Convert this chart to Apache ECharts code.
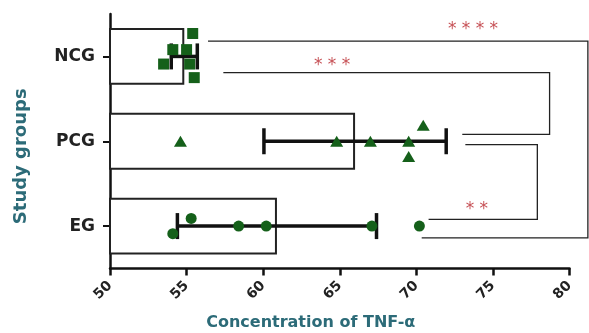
<!DOCTYPE html>
<meta charset="utf-8">
<style>
  body { margin: 0; background: #fff; }
  #container { width: 589px; height: 333px; }
</style>
<body>
<div id="container"></div>
<script src="https://cdn.jsdelivr.net/npm/echarts@6/dist/echarts.min.js"></script>
<script>

// groups from bottom to top, as the category axis draws them
var groups = ['EG', 'PCG', 'NCG'];
var means = [60.9, 66.0, 54.85];
var sds = [6.5, 5.95, 0.85];
var xTicks = [50, 55, 60, 65, 70, 75, 80];

// individual values: [concentration, vertical jitter inside the group band]
var egValues = [[55.3, 0.09], [54.1, -0.09], [58.4, 0], [60.2, 0], [67.1, 0], [70.2, 0]];
var pcgValues = [[54.6, 0], [64.8, 0], [67.0, 0], [69.5, 0], [70.45, 0.19], [69.5, -0.18]];
var ncgValues = [[55.4, 0.27], [54.1, 0.08], [55.0, 0.08], [53.5, -0.09], [55.2, -0.09], [55.5, -0.25]];

// significance brackets, in data units: x1,y1, x2,y2, x3,y3, x4,y4
var brackets = [
  [56.4, 2.68, 81.2, 2.68, 81.2, 0.36, 70.35, 0.36],
  [57.4, 2.31, 78.7, 2.31, 78.7, 1.58, 73.0, 1.58],
  [73.2, 1.46, 77.9, 1.46, 77.9, 0.58, 70.8, 0.58]
];
var starLabels = [
  { name: '* * * *', value: [73.7, 2.82] },
  { name: '* * *', value: [64.5, 2.39] },
  { name: '* *', value: [73.95, 0.69] }
];

var green = '#15601a';
var teal = '#2c6b78';

function place(values, idx) {
  return values.map(function (v) { return [v[0], idx + 0.5 + v[1]]; });
}

var dom = document.getElementById('container');
var myChart = echarts.init(dom, null, { renderer: 'canvas' });

var option = {
  animation: false,
  grid: { left: 110, right: 19.5, top: 14, bottom: 64.5, outerBoundsMode: 'none', containLabel: false },
  xAxis: {
    type: 'value',
    min: 50,
    max: 80,
    interval: 5,
    name: 'Concentration of TNF-\u03b1',
    nameLocation: 'middle',
    nameGap: 46,
    nameTextStyle: {
      color: teal, fontFamily: 'DejaVu Sans', fontWeight: 'bold', fontSize: 16,
      padding: [0, 58, 0, 0]
    },
    splitLine: { show: false },
    axisLine: { show: true, lineStyle: { color: '#111', width: 2.5 } },
    axisTick: { show: true, length: 7, lineStyle: { color: '#111', width: 2.5 } },
    axisLabel: {
      rotate: 45, margin: 15, color: '#222',
      fontFamily: 'DejaVu Sans', fontWeight: 'bold', fontSize: 14,
      formatter: function (v) { return xTicks.indexOf(v) >= 0 ? String(v) : ''; }
    }
  },
  yAxis: [{
    type: 'category',
    data: groups,
    name: 'Study groups',
    nameLocation: 'middle',
    nameGap: 80,
    nameTextStyle: {
      color: teal, fontFamily: 'DejaVu Sans', fontWeight: 'bold', fontSize: 18,
      padding: [0, 30, 0, 0]
    },
    axisLine: { show: true, lineStyle: { color: '#111', width: 2.5 } },
    axisTick: { show: true, alignWithLabel: true, length: 7, lineStyle: { color: '#111', width: 2 } },
    axisLabel: {
      margin: 15, color: '#222',
      fontFamily: 'DejaVu Sans', fontWeight: 'bold', fontSize: 17
    }
  }, {
    type: 'value',
    min: 0,
    max: 3,
    show: false
  }],
  series: [
    {
      type: 'bar',
      data: means,
      barWidth: '67%',
      itemStyle: { color: '#fff', borderColor: '#222', borderWidth: 2 },
      z: 2
    },
    {
      type: 'custom',
      xAxisIndex: 0,
      yAxisIndex: 1,
      data: means.map(function (m, i) { return [m, sds[i], i + 0.5]; }),
      encode: { x: 0, y: 2 },
      renderItem: function (params, api) {
        var m = api.value(0), s = api.value(1), y = api.value(2);
        var lo = api.coord([m - s, y]);
        var hi = api.coord([m + s, y]);
        var h = 13;
        var st = { stroke: '#111', lineWidth: 3.5 };
        return {
          type: 'group',
          children: [
            { type: 'line', shape: { x1: lo[0], y1: lo[1], x2: hi[0], y2: hi[1] }, style: st },
            { type: 'line', shape: { x1: lo[0], y1: lo[1] - h, x2: lo[0], y2: lo[1] + h }, style: st },
            { type: 'line', shape: { x1: hi[0], y1: hi[1] - h, x2: hi[0], y2: hi[1] + h }, style: st }
          ]
        };
      },
      z: 3
    },
    {
      type: 'scatter', xAxisIndex: 0, yAxisIndex: 1,
      data: place(egValues, 0), symbol: 'circle', symbolSize: 11,
      itemStyle: { color: green, opacity: 1 }, z: 4
    },
    {
      type: 'scatter', xAxisIndex: 0, yAxisIndex: 1,
      data: place(pcgValues, 1), symbol: 'triangle', symbolSize: [13, 11],
      itemStyle: { color: green, opacity: 1 }, z: 4
    },
    {
      type: 'scatter', xAxisIndex: 0, yAxisIndex: 1,
      data: place(ncgValues, 2), symbol: 'rect', symbolSize: 11,
      itemStyle: { color: green, opacity: 1 }, z: 4
    },
    {
      type: 'custom',
      xAxisIndex: 0,
      yAxisIndex: 1,
      data: brackets,
      clip: false,
      silent: true,
      encode: { x: [0, 2, 4, 6], y: [1, 3, 5, 7] },
      renderItem: function (params, api) {
        var pts = [];
        for (var k = 0; k < 4; k++) {
          pts.push(api.coord([api.value(2 * k), api.value(2 * k + 1)]));
        }
        return {
          type: 'polyline',
          shape: { points: pts },
          style: { stroke: '#222', lineWidth: 1.3, fill: null }
        };
      },
      z: 1
    },
    {
      type: 'scatter', xAxisIndex: 0, yAxisIndex: 1,
      data: starLabels, symbolSize: 0, silent: true,
      label: {
        show: true, position: 'inside', formatter: '{b}',
        color: '#b8242a', fontFamily: 'DejaVu Sans', fontSize: 17
      },
      z: 5
    }
  ]
};

myChart.setOption(option);
window.addEventListener('resize', myChart.resize);
</script>
</body>
